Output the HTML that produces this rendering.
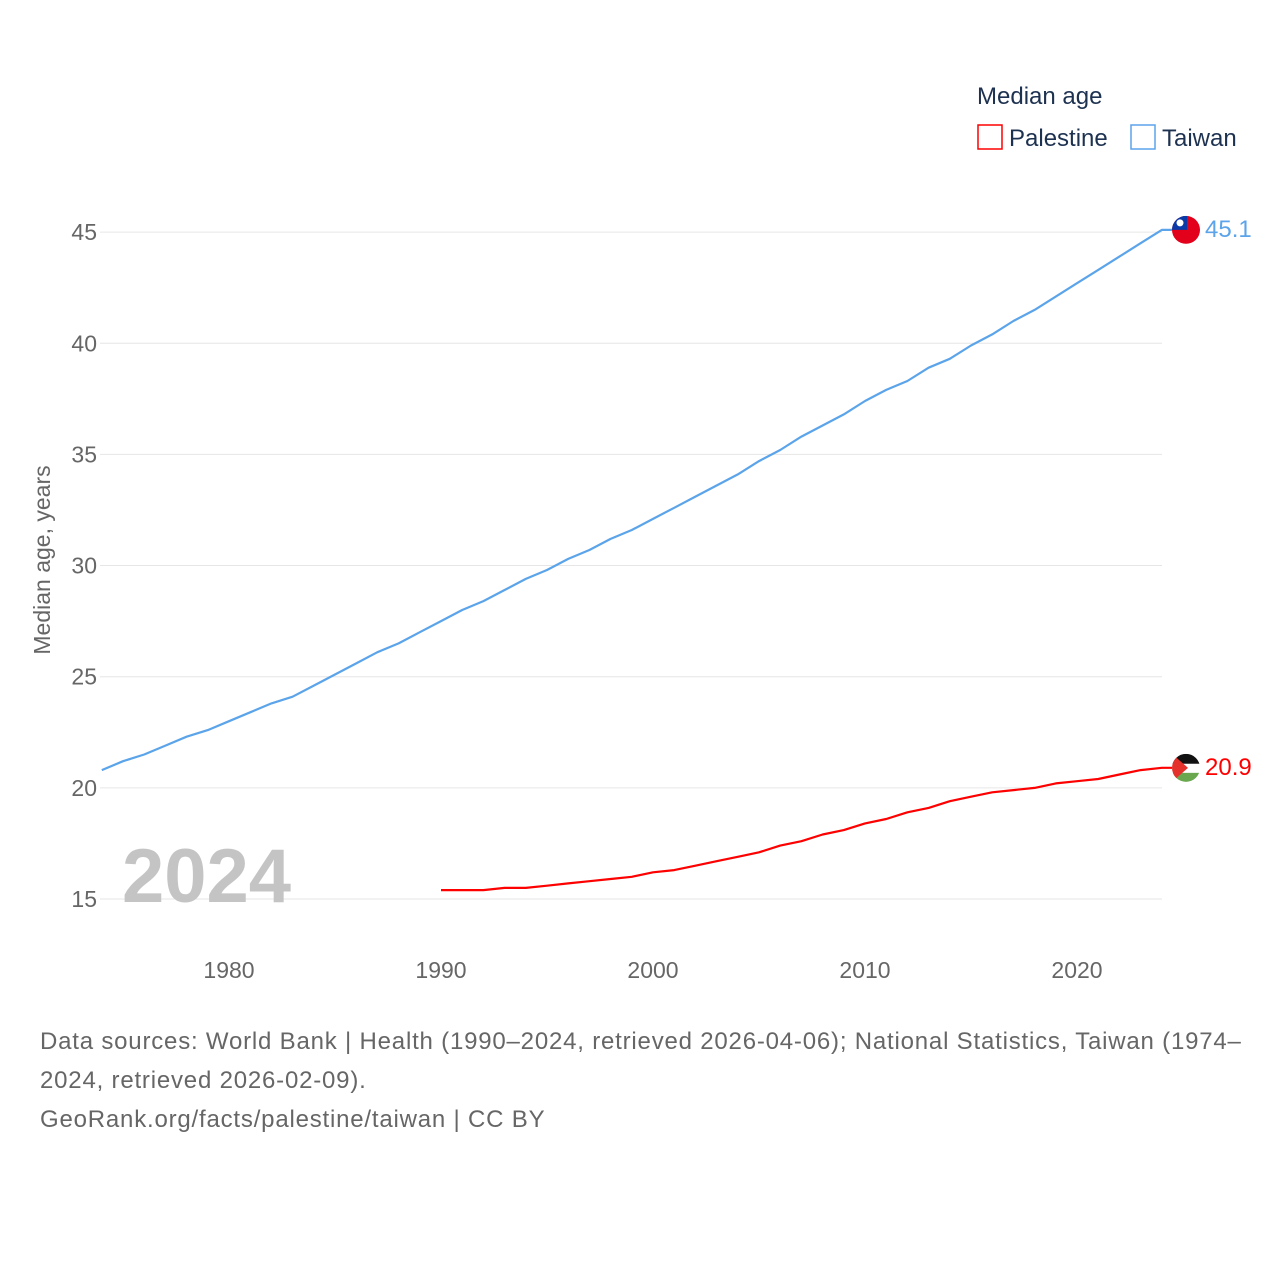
<!DOCTYPE html>
<html><head><meta charset="utf-8">
<style>
body{margin:0;background:#fff;font-family:"Liberation Sans",sans-serif;}
#wrap{position:relative;width:1280px;height:1280px;overflow:hidden;}
.src{position:absolute;left:40px;top:1022px;width:1240px;font-size:24px;line-height:39px;color:#666;letter-spacing:0.8px;white-space:nowrap;}
</style></head><body>
<div id="wrap">
<svg id="chart" width="1280" height="1280" style="position:absolute;left:0;top:0"></svg>
<div class="src">Data sources: World Bank | Health (1990–2024, retrieved 2026-04-06); National Statistics, Taiwan (1974–<br>2024, retrieved 2026-02-09).<br>GeoRank.org/facts/palestine/taiwan | CC BY</div>
</div>
<script>
const yTicks=[15,20,25,30,35,40,45];
const xTicks=[1980,1990,2000,2010,2020];
const taiwanYears=[];for(let y=1974;y<=2024;y++)taiwanYears.push(y);
const taiwanValues=[20.8,21.2,21.5,21.9,22.3,22.6,23.0,23.4,23.8,24.1,24.6,25.1,25.6,26.1,26.5,27.0,27.5,28.0,28.4,28.9,29.4,29.8,30.3,30.7,31.2,31.6,32.1,32.6,33.1,33.6,34.1,34.7,35.2,35.8,36.3,36.8,37.4,37.9,38.3,38.9,39.3,39.9,40.4,41.0,41.5,42.1,42.7,43.3,43.9,44.5,45.1];
const palestineYears=[];for(let y=1990;y<=2024;y++)palestineYears.push(y);
const palestineValues=[15.4,15.4,15.4,15.5,15.5,15.6,15.7,15.8,15.9,16.0,16.2,16.3,16.5,16.7,16.9,17.1,17.4,17.6,17.9,18.1,18.4,18.6,18.9,19.1,19.4,19.6,19.8,19.9,20.0,20.2,20.3,20.4,20.6,20.8,20.9];

const NS="http://www.w3.org/2000/svg";
const svg=document.getElementById('chart');
const X=yr=>229+(yr-1980)*21.2;
const Y=v=>899-(v-15)*22.23;
function mk(t,a,txt){const e=document.createElementNS(NS,t);for(const k in a)e.setAttribute(k,a[k]);if(txt!==undefined)e.textContent=txt;svg.appendChild(e);return e;}

yTicks.forEach(v=>{
 const g=mk('line',{x1:100,x2:1162,y1:Y(v),y2:Y(v),stroke:'#e6e6e6','stroke-width':1});
 
 
 const t=mk('text',{x:97,y:Y(v)+8,'text-anchor':'end','font-size':23,fill:'#666','font-family':'Liberation Sans'},v);
 
 
});
xTicks.forEach(yr=>{
 const t=mk('text',{x:X(yr),y:978,'text-anchor':'middle','font-size':23,fill:'#666','font-family':'Liberation Sans'},yr);
 
 
});
const yt=mk('text',{x:0,y:0,transform:'translate(50,560) rotate(-90)','text-anchor':'middle','font-size':23,fill:'#666','font-family':'Liberation Sans'},'Median age, years');


const yr=mk('text',{x:122,y:902,'font-size':76,'font-weight':'bold',fill:'#c4c4c4','font-family':'Liberation Sans'},'2024');



function series(years,vals,color,name){
 let d=years.map((y,i)=>(i?'L':'M')+X(y).toFixed(1)+','+Y(vals[i]).toFixed(1)).join('');
 d+='L1172,'+Y(vals[vals.length-1]).toFixed(1);
 const p=mk('path',{d:d,fill:'none',stroke:color,'stroke-width':2.2,'stroke-linejoin':'round'});
 
 
 const last=vals[vals.length-1];
 const l=mk('text',{x:1205,y:Y(last)+7,'font-size':24,fill:color,'font-family':'Liberation Sans'},last.toFixed(1));
 
 
 return Y(last);
}
const ty=series(taiwanYears,taiwanValues,'#5ba4ea','taiwan');
const py=series(palestineYears,palestineValues,'#ff0000','palestine');

const defs=mk('defs',{});
defs.innerHTML='<clipPath id="c1"><circle cx="1186" cy="'+ty+'" r="14"/></clipPath><clipPath id="c2"><circle cx="1186" cy="'+py+'" r="14"/></clipPath>';
const tf=mk('g',{'clip-path':'url(#c1)'});


tf.innerHTML='<rect x="1172" y="'+(ty-14)+'" width="28" height="28" fill="#e3001b"/><rect x="1172" y="'+(ty-14)+'" width="15" height="14" fill="#0a3aa8"/><circle cx="1180" cy="'+(ty-7)+'" r="3.5" fill="#fff"/>';
const pf=mk('g',{'clip-path':'url(#c2)'});


pf.innerHTML='<rect x="1172" y="'+(py-14)+'" width="28" height="10" fill="#111"/><rect x="1172" y="'+(py-4)+'" width="28" height="9" fill="#fff"/><rect x="1172" y="'+(py+5)+'" width="28" height="10" fill="#6aa84f"/><polygon points="1172,'+(py-14)+' 1188,'+py+' 1172,'+(py+14)+'" fill="#e4312b"/>';

const lt=mk('text',{x:977,y:104,'font-size':24,fill:'#1d3150','font-family':'Liberation Sans'},'Median age');


[['Palestine','#ff0000',978],['Taiwan','#5ba4ea',1131]].forEach(([n,c,x])=>{
 const r=mk('rect',{x:x,y:125,width:24,height:24,fill:'#fff',stroke:c,'stroke-width':1.5});
 
 
 const t=mk('text',{x:x+31,y:146,'font-size':24,fill:'#1d3150','font-family':'Liberation Sans'},n);
 
 
});
</script>
</body></html>
